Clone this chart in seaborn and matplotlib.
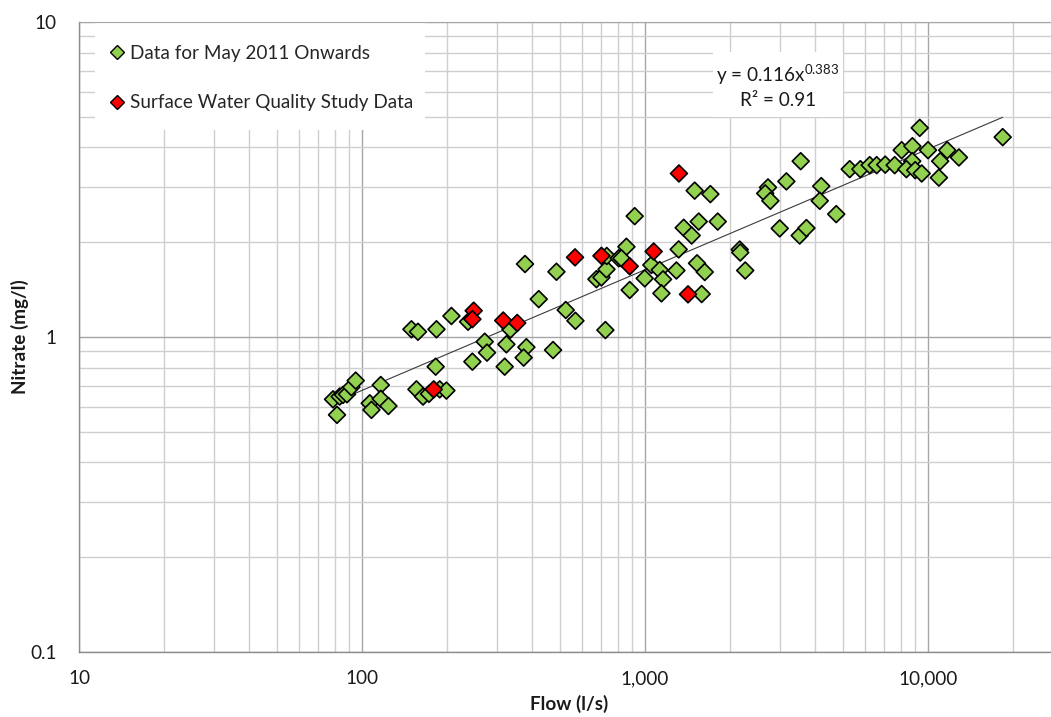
import numpy as np
import pandas as pd
import seaborn as sns
import matplotlib.pyplot as plt
from matplotlib.lines import Line2D
from matplotlib.patches import Rectangle
from matplotlib.ticker import FuncFormatter, LogLocator, NullFormatter

# values
may_flow = [79, 81.6, 83.4, 85.7, 88.5, 91.7, 95, 106.5, 108, 116.5, 116.5, 124,
            149.5, 157.7, 183.3, 207, 237, 155.7, 164.3, 172.5, 188.2, 198.7,
            182.1, 245.5, 271.4, 276.5, 319.3, 323.7, 334.5, 376.7, 380.9, 372.6,
            421.2, 473.2, 486.5, 524.7, 567.7, 673.4, 701.6, 730.8, 732.6, 807.5,
            724.4, 919.5, 859.6, 825.4, 1315, 1053, 1127, 1158, 997.5, 1291,
            1527, 1626, 883, 1143, 1586, 1498, 1702, 1370, 1462, 1548, 1807,
            2161, 2170, 2260, 2720, 2659, 2774, 2992, 3159, 3549, 3520, 3718,
            4195, 4144, 4739, 5288, 5768, 6223, 6586, 7061, 7625, 8072, 8807,
            9348, 8795, 8388, 9011, 9500, 10000, 10926, 11040, 11690, 12860, 18360]
may_nitrate = [0.634, 0.566, 0.647, 0.655, 0.658, 0.693, 0.727, 0.616, 0.587, 0.704,
               0.636, 0.604, 1.058, 1.039, 1.058, 1.166, 1.118, 0.682, 0.647, 0.660,
               0.682, 0.676, 0.805, 0.835, 0.966, 0.892, 0.805, 0.948, 1.056, 1.705,
               0.928, 0.860, 1.319, 0.909, 1.611, 1.218, 1.126, 1.526, 1.546, 1.640,
               1.808, 1.778, 1.052, 2.419, 1.934, 1.778, 1.897, 1.693, 1.632, 1.524,
               1.535, 1.626, 1.714, 1.608, 1.41, 1.376, 1.369, 2.915, 2.842, 2.222,
               2.100, 2.325, 2.325, 1.895, 1.854, 1.626, 2.985, 2.857, 2.706, 2.212,
               3.119, 3.615, 2.100, 2.217, 3.013, 2.706, 2.455, 3.411, 3.411, 3.512,
               3.512, 3.525, 3.512, 3.918, 4.034, 4.612, 3.615, 3.411, 3.386, 3.305,
               3.918, 3.205, 3.615, 3.918, 3.715, 4.31]

swq_flow = [248.1, 245.5, 179.2, 315.5, 353.5, 565.8, 701.6, 1318, 1073, 883, 1419]
swq_nitrate = [1.212, 1.139, 0.682, 1.128, 1.108, 1.790, 1.810, 3.305, 1.868, 1.677, 1.366]

series_names = ["Data for May 2011 Onwards", "Surface Water Quality Study Data"]
series_colors = ["#92D050", "#FF0000"]

trend_a = 0.116
trend_b = 0.383
trend_r2 = 0.91

df = pd.concat([
    pd.DataFrame({"flow": may_flow, "nitrate": may_nitrate, "series": series_names[0]}),
    pd.DataFrame({"flow": swq_flow, "nitrate": swq_nitrate, "series": series_names[1]}),
], ignore_index=True)

sns.set_style("white")
plt.rcParams["font.family"] = ["Lato", "DejaVu Sans"]
plt.rcParams["mathtext.fontset"] = "custom"
plt.rcParams["mathtext.rm"] = "Lato"
plt.rcParams["mathtext.it"] = "Lato"

FS = 13.6
W, H = 1051, 717
fig = plt.figure(figsize=(W / 100, H / 100), dpi=100)
ax = fig.add_axes([79 / W, (H - 652) / H, (W - 79) / W, (652 - 22) / H])
ax.set_xscale("log")
ax.set_yscale("log")

# power trendline over the range of the May 2011 data
xs = np.array([min(may_flow), max(may_flow)])
ax.plot(xs, trend_a * xs ** trend_b, color="#3a3a3a", lw=0.8, zorder=3)

sns.scatterplot(data=df, x="flow", y="nitrate", hue="series",
                palette=dict(zip(series_names, series_colors)),
                marker="D", s=74, edgecolor="black", linewidth=1.2,
                legend=False, ax=ax, zorder=4)
ax.set_xlabel("")
ax.set_ylabel("")

ax.set_xlim(10, 27200)
ax.set_ylim(0.1, 10)

ax.xaxis.set_major_locator(LogLocator(base=10))
ax.xaxis.set_minor_locator(LogLocator(base=10, subs=np.arange(2, 10)))
ax.yaxis.set_major_locator(LogLocator(base=10))
ax.yaxis.set_minor_locator(LogLocator(base=10, subs=np.arange(2, 10)))
ax.xaxis.set_major_formatter(FuncFormatter(lambda v, _: f"{v:,.0f}"))
ax.yaxis.set_major_formatter(FuncFormatter(lambda v, _: f"{v:g}"))
ax.xaxis.set_minor_formatter(NullFormatter())
ax.yaxis.set_minor_formatter(NullFormatter())

ax.grid(which="major", color="#a6a6a6", lw=1.0, zorder=0)
ax.grid(which="minor", color="#cfcfcf", lw=1.0, zorder=0)
ax.set_axisbelow(True)

ax.spines["right"].set_visible(False)
ax.spines["top"].set_color("#a6a6a6")
for side in ["left", "bottom"]:
    ax.spines[side].set_color("#8c8c8c")
    ax.spines[side].set_linewidth(1.0)

ax.tick_params(which="major", direction="out", length=7, width=1, color="#8c8c8c",
               labelsize=FS, labelcolor="#1a1a1a")
ax.tick_params(axis="x", which="major", pad=6)
ax.tick_params(axis="y", which="major", pad=9)
ax.tick_params(which="minor", length=0)

fig.text(569 / W, 1 - 704 / H, "Flow (l/s)", fontsize=FS, fontweight="bold",
         ha="center", va="center", color="#1a1a1a")
fig.text(20 / W, 1 - 337 / H, "Nitrate (mg/l)", fontsize=FS, fontweight="bold",
         ha="center", va="center", rotation=90, color="#1a1a1a")

# legend: white panel plus frameless legend
ax.add_patch(Rectangle((95 / W, 1 - 130 / H), 330 / W, 107 / H, transform=fig.transFigure,
                       facecolor="white", edgecolor="none", zorder=2))
handles = [Line2D([], [], ls="none", marker="D", markersize=7.2, markerfacecolor=c,
                  markeredgecolor="black", markeredgewidth=1.0) for c in series_colors]
leg = ax.legend(handles, series_names, loc="upper left",
                bbox_to_anchor=(110 / W, 1 - 45 / H), bbox_transform=fig.transFigure,
                borderaxespad=0, borderpad=0, fontsize=FS, frameon=False,
                labelspacing=1.72, handlelength=0.75, handletextpad=0.3)
leg.set_zorder(5)

# trendline equation
ax.add_patch(Rectangle((713 / W, 1 - 117 / H), 130 / W, 65 / H, transform=fig.transFigure,
                       facecolor="white", edgecolor="none", zorder=2))
ax.text(778 / W, 1 - 75 / H, f"y = {trend_a}x$^{{{trend_b}}}$", transform=fig.transFigure,
        ha="center", va="center", fontsize=FS, color="#1a1a1a", zorder=6)
ax.text(778 / W, 1 - 101 / H, f"R² = {trend_r2}", transform=fig.transFigure,
        ha="center", va="center", fontsize=FS, color="#1a1a1a", zorder=6)

fig.savefig("out.png", dpi=100)
